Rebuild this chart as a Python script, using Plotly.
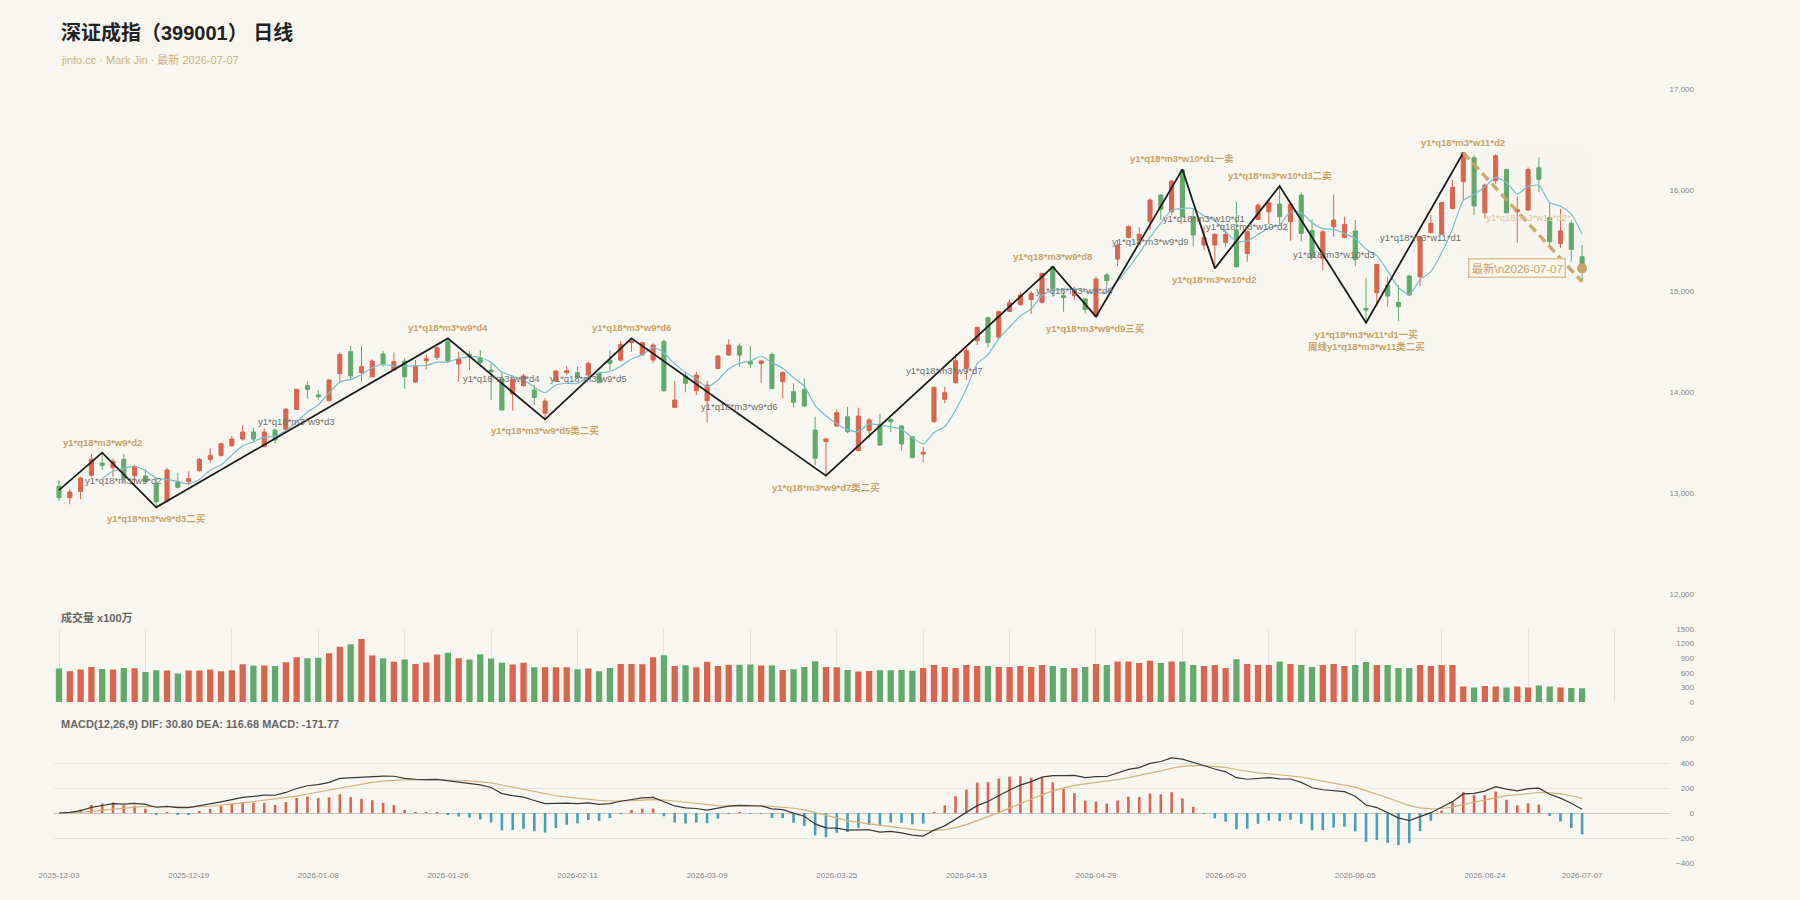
import plotly.graph_objects as go

# ---------------- data ----------------
dates = [
    "2025-12-03","2025-12-04","2025-12-05","2025-12-08","2025-12-09","2025-12-10","2025-12-11","2025-12-12",
    "2025-12-15","2025-12-16","2025-12-17","2025-12-18","2025-12-19","2025-12-22","2025-12-23","2025-12-24",
    "2025-12-25","2025-12-26","2025-12-29","2025-12-30","2025-12-31",
    "2026-01-05","2026-01-06","2026-01-07","2026-01-08","2026-01-09","2026-01-12","2026-01-13","2026-01-14",
    "2026-01-15","2026-01-16","2026-01-19","2026-01-20","2026-01-21","2026-01-22","2026-01-23","2026-01-26",
    "2026-01-27","2026-01-28","2026-01-29","2026-01-30",
    "2026-02-02","2026-02-03","2026-02-04","2026-02-05","2026-02-06","2026-02-09","2026-02-10","2026-02-11",
    "2026-02-12","2026-02-13","2026-02-24","2026-02-25","2026-02-26","2026-02-27",
    "2026-03-02","2026-03-03","2026-03-04","2026-03-05","2026-03-06","2026-03-09","2026-03-10","2026-03-11",
    "2026-03-12","2026-03-13","2026-03-16","2026-03-17","2026-03-18","2026-03-19","2026-03-20","2026-03-23",
    "2026-03-24","2026-03-25","2026-03-26","2026-03-27","2026-03-30","2026-03-31",
    "2026-04-01","2026-04-02","2026-04-03","2026-04-07","2026-04-08","2026-04-09","2026-04-10","2026-04-13",
    "2026-04-14","2026-04-15","2026-04-16","2026-04-17","2026-04-20","2026-04-21","2026-04-22","2026-04-23",
    "2026-04-24","2026-04-27","2026-04-28","2026-04-29","2026-04-30",
    "2026-05-06","2026-05-07","2026-05-08","2026-05-11","2026-05-12","2026-05-13","2026-05-14","2026-05-15",
    "2026-05-18","2026-05-19","2026-05-20","2026-05-21","2026-05-22","2026-05-25","2026-05-26","2026-05-27",
    "2026-05-28","2026-05-29",
    "2026-06-01","2026-06-02","2026-06-03","2026-06-04","2026-06-05","2026-06-08","2026-06-09","2026-06-10",
    "2026-06-11","2026-06-12","2026-06-15","2026-06-16","2026-06-17","2026-06-18","2026-06-22","2026-06-23",
    "2026-06-24","2026-06-25","2026-06-26","2026-06-29","2026-06-30",
    "2026-07-01","2026-07-02","2026-07-03","2026-07-06","2026-07-07",
]

open_ = [13070,12955,13018,13176,13298,13252,13335,13173,13170,13090,12922,13113,13113,13222,13335,13374,
         13470,13536,13606,13460,13625,13632,13830,14065,13972,13916,14184,14402,14194,14154,14379,14220,
         14309,14101,14313,14346,14501,14280,14375,14342,14220,14131,13982,14065,14022,13791,14111,14194,
         14194,14170,14187,14319,14319,14491,14369,14319,14501,13850,14161,14015,13916,14236,14369,14458,
         14303,14286,14375,14104,14005,14028,13625,13510,13665,13757,13421,13619,13682,13731,13665,13559,
         13388,13708,13929,14094,14237,14511,14739,14544,14801,14868,14920,14891,15244,14957,14957,14924,
         14755,15162,15320,15535,15509,15690,15955,15789,16202,15740,15459,15459,15485,15608,15376,15713,
         15789,15865,15690,15954,15601,15327,15641,15535,15598,14831,14986,15062,14891,15152,15145,15581,
         15565,15822,16087,16324,15779,16097,16209,15789,15806,16225,15730,15475,15674,15343]
high = [13127,13041,13163,13388,13401,13341,13388,13282,13236,13146,13252,13202,13216,13348,13444,13500,
        13566,13672,13649,13642,13642,13840,14035,14111,14022,14131,14395,14458,14458,14326,14408,14395,
        14336,14319,14375,14451,14534,14402,14408,14418,14286,14203,14131,14180,14071,13939,14220,14260,
        14253,14303,14204,14418,14507,14534,14501,14484,14524,14111,14204,14204,14114,14369,14524,14484,
        14458,14319,14395,14210,14088,14137,13758,13549,13830,13857,13847,13741,13784,13741,13675,13566,
        13460,14055,14055,14375,14445,14649,14749,14808,14914,14997,15006,15185,15244,14997,15046,14937,
        15145,15185,15508,15657,15634,15921,15961,16103,16209,15822,15647,15575,15608,15888,15608,15872,
        15905,16044,15879,15981,15713,15608,15961,15740,15707,15135,15267,15145,15062,15162,15551,15756,
        15888,16103,16374,16351,16070,16358,16209,15938,16229,16328,15888,15816,15707,15459]
low = [12922,12889,12938,13163,13229,13163,13103,13090,13103,12859,12908,13047,13077,13212,13305,13361,
       13460,13520,13510,13460,13493,13625,13824,13936,13923,13913,14104,14121,14104,14147,14253,14213,
       14035,14095,14227,14319,14286,14104,14220,14253,13923,13817,13817,14055,13873,13731,14104,14170,
       14137,14154,14088,14220,14303,14402,14359,14286,14005,13850,13999,13972,13701,14230,14362,14253,
       14243,14095,14028,13939,13850,13857,13278,13173,13658,13592,13421,13543,13470,13606,13421,13345,
       13305,13698,13890,14088,14121,14468,14445,14524,14795,14858,14775,14881,14947,14798,14920,14775,
       14749,15046,15251,15525,15475,15608,15707,15756,15733,15449,15409,15228,15442,15238,15294,15707,
       15667,15657,15502,15492,15327,15211,15542,15525,15251,14689,14848,14848,14706,14953,15052,15575,
       15558,15812,15905,15756,15723,16064,15773,15482,15799,15987,15449,15432,15294,15095]
close = [12955,13011,13150,13335,13275,13315,13146,13262,13113,12915,13229,13057,13143,13335,13374,13490,
         13536,13606,13536,13606,13526,13833,14028,14028,13956,14121,14375,14161,14253,14309,14276,14303,
         14154,14260,14332,14441,14309,14329,14346,14296,14203,13824,14128,14161,13949,13913,14210,14213,
         14147,14286,14095,14286,14474,14507,14491,14468,14015,13923,14088,14170,14071,14359,14468,14369,
         14280,14309,14038,14194,13900,13863,13345,13536,13797,13609,13764,13725,13477,13708,13487,13355,
         13404,14048,13995,14313,14412,14643,14494,14798,14887,14964,14980,15178,15029,14940,15006,14821,
         15122,15106,15456,15641,15565,15905,15812,16093,15740,15558,15535,15565,15565,15244,15591,15855,
         15879,15740,15865,15575,15337,15591,15707,15664,15317,14815,15267,14953,14848,14963,15541,15674,
         15882,16030,16374,15846,16054,16344,15779,15812,16209,16110,15492,15598,15416,15228]
volume = [688,632,667,721,680,667,701,695,618,653,646,585,646,646,667,632,
          653,776,749,749,742,818,921,900,907,1003,1133,1189,1292,955,900,826,
          873,783,811,976,1010,900,873,983,894,804,770,804,715,715,715,715,
          674,688,632,701,783,783,777,921,962,742,756,715,826,742,763,763,
          770,749,749,660,674,721,839,721,715,660,625,639,653,653,660,640,
          700,760,720,700,760,740,740,720,720,740,720,760,740,700,700,720,
          780,760,830,830,800,850,800,830,830,760,740,760,700,880,780,760,
          760,830,780,760,720,760,780,740,760,820,760,760,700,700,760,740,
          760,760,320,300,330,320,300,320,300,340,320,300,290,280]

tick_dates = ["2025-12-03","2025-12-19","2026-01-08","2026-01-26","2026-02-11","2026-03-09","2026-03-25",
              "2026-04-13","2026-04-29","2026-05-20","2026-06-05","2026-06-24","2026-07-07"]
price_ticks = [12000, 13000, 14000, 15000, 16000, 17000]
vol_ticks = [0, 300, 600, 900, 1200, 1500]
macd_ticks = [-400, -200, 0, 200, 400, 600]

# zigzag pivots (category index, price, label)
pivot_idx = [0, 4, 9, 36, 45, 53, 71, 92, 96, 104, 107, 113, 121, 130]
pivot_price = [13030, 13401, 12859, 14534, 13731, 14534, 13173, 15244, 14749, 16209, 15228, 16044, 14689, 16374]
pivot_label = ["", "y1*q18*m3*w9*d2", "y1*q18*m3*w9*d3二买", "y1*q18*m3*w9*d4", "y1*q18*m3*w9*d5类二买",
               "y1*q18*m3*w9*d6", "y1*q18*m3*w9*d7类二买", "y1*q18*m3*w9*d8", "y1*q18*m3*w9*d9三买",
               "y1*q18*m3*w10*d1一卖", "y1*q18*m3*w10*d2", "y1*q18*m3*w10*d3二卖",
               "y1*q18*m3*w11*d1一买<br>周线y1*q18*m3*w11类二买", "y1*q18*m3*w11*d2"]

# segment labels (gray)
seg_idx = [6, 22, 41, 49, 63, 82, 94, 101, 106, 110, 118, 126]
seg_price = [13130, 13705, 14141, 14141, 13863, 14220, 15013, 15492, 15724, 15640, 15370, 15535]
seg_label = ["y1*q18*m3*w9*d2", "y1*q18*m3*w9*d3", "y1*q18*m3*w9*d4", "y1*q18*m3*w9*d5",
             "y1*q18*m3*w9*d6", "y1*q18*m3*w9*d7", "y1*q18*m3*w9*d8", "y1*q18*m3*w9*d9",
             "y1*q18*m3*w10*d1", "y1*q18*m3*w10*d2", "y1*q18*m3*w10*d3", "y1*q18*m3*w11*d1"]
pending_idx, pending_price, pending_label = 136, 15733, "y1*q18*m3*w11*d2*"

# projected (dashed) segment: last pivot to latest low
proj_idx = [130, 141]
proj_price = [16374, 15095]

# ---------------- derived indicators (chart's own definitions) ----------------
n = len(close)
ma5 = [None] * n
for i in range(4, n):
    ma5[i] = sum(close[i - 4:i + 1]) / 5.0

def ema(vals, period):
    a = 2.0 / (period + 1)
    out = [vals[0]]
    for v in vals[1:]:
        out.append(a * v + (1 - a) * out[-1])
    return out

e12 = ema(close, 12)
e26 = ema(close, 26)
dif = [a - b for a, b in zip(e12, e26)]
dea = ema(dif, 9)
hist = [2 * (a - b) for a, b in zip(dif, dea)]

# ---------------- style ----------------
BG = "#f8f6f1"
UP = "#d9654f"
DOWN = "#62a96c"
TAN = "#c9a266"
FONT = "Liberation Sans, Arial, Noto Sans CJK SC, sans-serif"

fig = go.Figure()

fig.add_trace(go.Candlestick(
    x=dates, open=open_, high=high, low=low, close=close,
    increasing=dict(line=dict(color=UP, width=1), fillcolor=UP),
    decreasing=dict(line=dict(color=DOWN, width=1), fillcolor=DOWN),
    whiskerwidth=0, xaxis="x", yaxis="y", hoverinfo="skip"))

fig.add_trace(go.Scatter(x=dates, y=ma5, mode="lines", line=dict(color="#7dbdcd", width=1.2, shape="spline", smoothing=0.6),
                         xaxis="x", yaxis="y", hoverinfo="skip"))

fig.add_trace(go.Scatter(x=[dates[i] for i in pivot_idx], y=pivot_price, mode="lines",
                         line=dict(color="#1e1e1e", width=1.8), xaxis="x", yaxis="y", hoverinfo="skip"))

fig.add_trace(go.Scatter(x=[dates[i] for i in proj_idx], y=proj_price, mode="lines",
                         line=dict(color=TAN, width=3.5, dash="9px,5px"), opacity=0.9,
                         xaxis="x", yaxis="y", hoverinfo="skip"))

fig.add_trace(go.Scatter(x=[dates[-1]], y=[close[-1]], mode="markers",
                         marker=dict(color=TAN, size=10), xaxis="x", yaxis="y", hoverinfo="skip"))

vol_colors = [UP if c >= o else DOWN for o, c in zip(open_, close)]
fig.add_trace(go.Bar(x=dates, y=volume, marker=dict(color=vol_colors, line=dict(width=0)), width=0.58,
                     xaxis="x2", yaxis="y2", hoverinfo="skip"))

hist_colors = [UP if h >= 0 else "#4a9db3" for h in hist]
fig.add_trace(go.Bar(x=dates, y=hist, marker=dict(color=hist_colors, line=dict(width=0)), width=0.24,
                     xaxis="x3", yaxis="y3", hoverinfo="skip"))
fig.add_trace(go.Scatter(x=dates, y=dea, mode="lines", line=dict(color="#d6b27a", width=1.2),
                         xaxis="x3", yaxis="y3", hoverinfo="skip"))
fig.add_trace(go.Scatter(x=dates, y=dif, mode="lines", line=dict(color="#3a3a3a", width=1.2),
                         xaxis="x3", yaxis="y3", hoverinfo="skip"))

# ---------------- annotations ----------------
ann = []
for k, (i, p, t) in enumerate(zip(pivot_idx, pivot_price, pivot_label)):
    if not t:
        continue
    prev_p = pivot_price[k - 1]
    is_peak = p > prev_p
    ann.append(dict(x=dates[i], y=p, xref="x", yref="y", text="<b>" + t + "</b>", showarrow=False,
                    xanchor="center", yanchor="bottom" if is_peak else "top",
                    yshift=3 if is_peak else -4,
                    font=dict(family=FONT, size=9.5, color=TAN)))
for i, p, t in zip(seg_idx, seg_price, seg_label):
    ann.append(dict(x=dates[i], y=p, xref="x", yref="y", text=t, showarrow=False,
                    xanchor="center", yanchor="middle", font=dict(family=FONT, size=9.5, color="#707070")))
ann.append(dict(x=dates[pending_idx], y=pending_price, xref="x", yref="y", text=pending_label, showarrow=False,
                xanchor="center", yanchor="middle", font=dict(family=FONT, size=9.5, color="#dcc59c")))
ann.append(dict(x=dates[-1], y=close[-1], xref="x", yref="y", text="最新\\n2026-07-07", showarrow=False,
                xanchor="right", yanchor="middle", xshift=-16,
                bordercolor="#dcc398", borderwidth=1.5, borderpad=2, bgcolor="#f9f6ee",
                font=dict(family=FONT, size=11.5, color=TAN)))

ann.append(dict(x=59 / 1800, y=1 - 33 / 900, xref="paper", yref="paper", text="<b>深证成指（399001） 日线</b>",
                showarrow=False, xanchor="left", yanchor="middle", font=dict(family=FONT, size=20, color="#222222")))
ann.append(dict(x=59 / 1800, y=1 - 59 / 900, xref="paper", yref="paper", text="jinfo.cc · Mark Jin · 最新 2026-07-07",
                showarrow=False, xanchor="left", yanchor="middle", font=dict(family=FONT, size=11, color="#cfb27c")))
ann.append(dict(x=59 / 1800, y=1 - 617 / 900, xref="paper", yref="paper", text="<b>成交量 x100万</b>",
                showarrow=False, xanchor="left", yanchor="middle", font=dict(family=FONT, size=11, color="#666666")))
ann.append(dict(x=59 / 1800, y=1 - 724 / 900, xref="paper", yref="paper",
                text="<b>MACD(12,26,9) DIF: 30.80 DEA: 116.68 MACD: -171.77</b>",
                showarrow=False, xanchor="left", yanchor="middle", font=dict(family=FONT, size=11, color="#666666")))

XDOM = [53.6 / 1800, 1668.5 / 1800]
XRANGE = [-0.5, 149]
YPOS = 1694 / 1800
tickfont = dict(family=FONT, size=8, color="#888888")

fig.update_layout(
    width=1800, height=900, margin=dict(l=0, r=0, t=0, b=0, autoexpand=False),
    paper_bgcolor=BG, plot_bgcolor=BG, showlegend=False, boxgap=0.46,
    annotations=ann,
    xaxis=dict(domain=XDOM, range=XRANGE, type="category", categoryorder="array", categoryarray=dates,
               showticklabels=False, showgrid=False, zeroline=False, rangeslider=dict(visible=False),
               anchor="y", fixedrange=True, automargin=False),
    yaxis=dict(domain=[1 - 594 / 900, 1 - 89.6 / 900], range=[12000, 17000], tickvals=price_ticks,
               tickformat=",", showgrid=False, zeroline=False, anchor="free", position=YPOS, side="left",
               ticks="", tickfont=tickfont, showline=False, automargin=False),
    xaxis2=dict(domain=XDOM, range=XRANGE, type="category", categoryorder="array", categoryarray=dates,
                tickvals=list(range(0, 145, 8)), showticklabels=False, showgrid=True, gridcolor="#e7e4dd",
                gridwidth=1, zeroline=False, anchor="y2", automargin=False),
    yaxis2=dict(domain=[1 - 702 / 900, 1 - 629 / 900], range=[0, 1500], tickvals=vol_ticks, showgrid=False,
                zeroline=False, anchor="free", position=YPOS, side="left", ticks="", tickfont=tickfont,
                automargin=False),
    xaxis3=dict(domain=XDOM, range=XRANGE, type="category", categoryorder="array", categoryarray=dates,
                tickvals=tick_dates, ticktext=tick_dates, showgrid=False, zeroline=False, anchor="y3",
                ticks="", tickfont=tickfont, ticklabelstandoff=6, automargin=False),
    yaxis3=dict(domain=[1 - 863 / 900, 1 - 738 / 900], range=[-400, 600], tickvals=macd_ticks, showgrid=True,
                gridcolor="#e7e4dd", gridwidth=1, zeroline=True, zerolinecolor="#c9c6c0", zerolinewidth=1,
                anchor="free", position=YPOS, side="left", ticks="", tickfont=tickfont, automargin=False),
)

fig.write_html("out.html")
